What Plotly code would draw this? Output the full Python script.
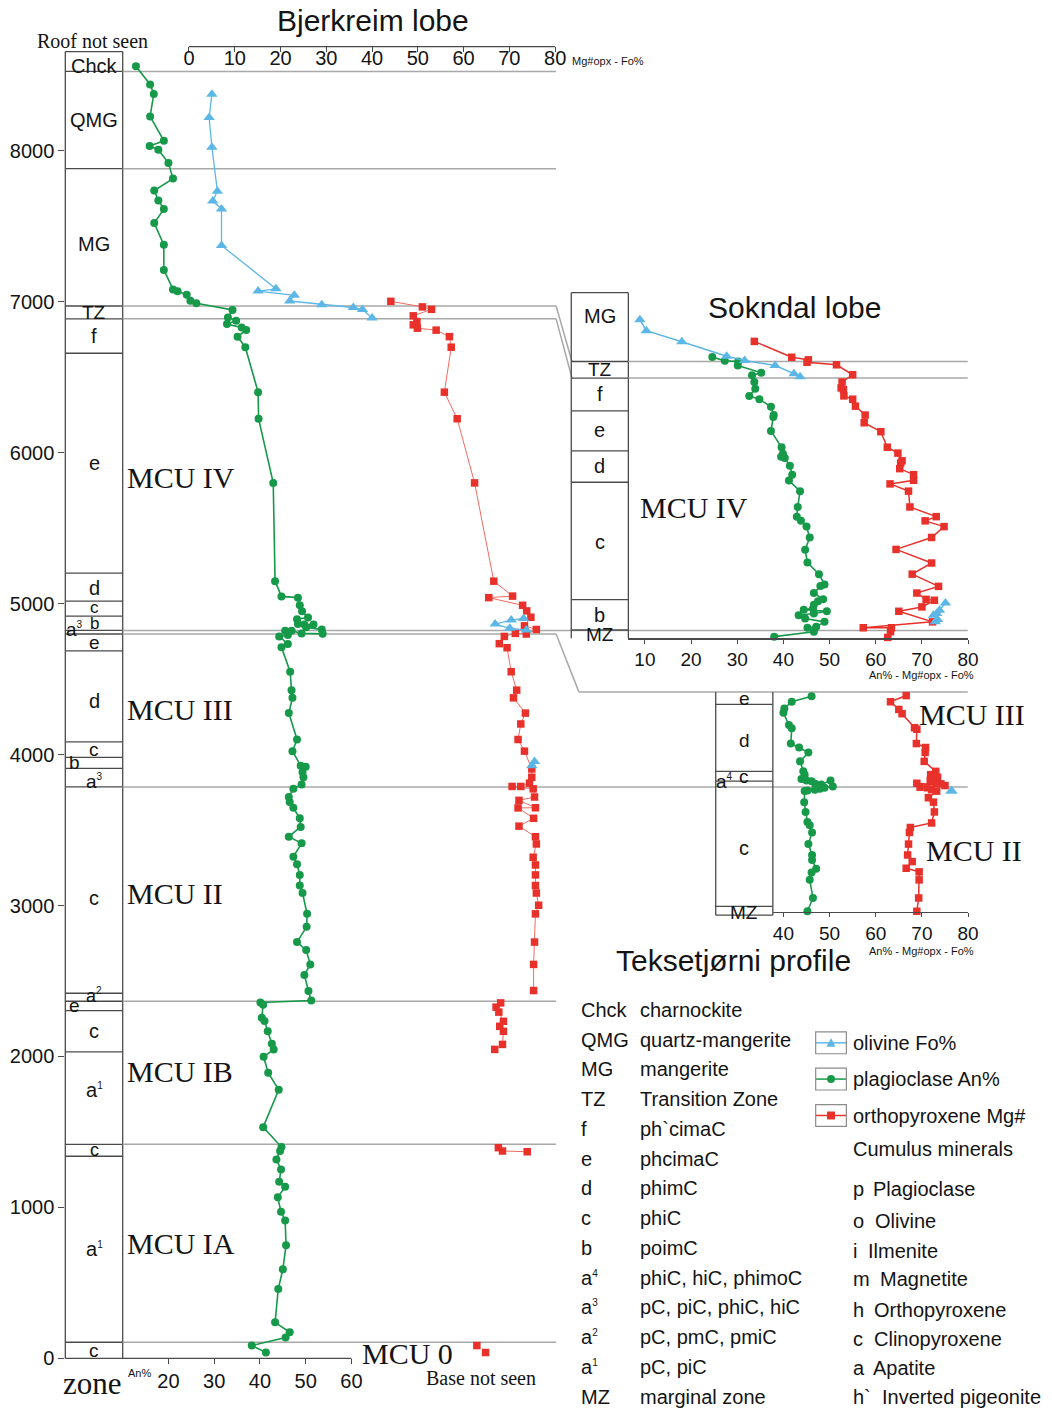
import plotly.graph_objects as go

W, H = 1052, 1419
SANS = "Liberation Sans, Arial, sans-serif"
SERIF = "Liberation Serif, Times New Roman, serif"
GREEN = "#17994a"
RED = "#e8312b"
REDLINE = "#ef6b62"
BLUE = "#5db7e6"
GRAY = "#a8a8a8"
DARK = "#4a4a4a"
TXT = "#141414"

# ---------------- data: Bjerkreim lobe (stratigraphic height, m) ----------------
bj_pl_depth = [8561, 8440, 8377, 8228, 8066, 8032, 8007, 7919, 7816, 7737, 7671, 7614, 7522, 7377, 7211,
               7082, 7069, 7047, 7007, 6990, 6946, 6896, 6874, 6852, 6830, 6813, 6769, 6699, 6401, 6225,
               5800, 5149, 5048, 5040, 4989, 4950, 4908, 4897, 4866, 4862, 4862, 4843, 4829, 4800, 4803,
               4820, 4820, 4792, 4783, 4733, 4711, 4549, 4427, 4376, 4275, 4100, 4023, 3927, 3920, 3883,
               3850, 3802, 3773, 3719, 3686, 3648, 3578, 3521, 3456, 3412, 3324, 3273, 3203, 3133, 3083,
               2945, 2859, 2758, 2705, 2610, 2540, 2434, 2371, 2358, 2343, 2257, 2235, 2167, 2084, 2047,
               1998, 1893, 1779, 1532, 1400, 1374, 1317, 1251, 1170, 1137, 1067, 971, 914, 750, 590,
               460, 239, 173, 138, 85, 39]
bj_pl_an = [12.9, 16.0, 16.8, 16.0, 19.0, 15.9, 17.8, 20.0, 21.0, 16.9, 17.8, 19.0, 16.9, 19.0, 19.0,
            21.0, 22.0, 24.0, 24.8, 26.1, 34.0, 33.0, 34.8, 32.8, 36.0, 37.0, 35.1, 36.8, 39.6, 39.7,
            42.9, 43.3, 44.7, 48.3, 48.7, 49.2, 50.5, 48.1, 48.3, 49.7, 51.7, 50.1, 53.5, 53.7, 49.1,
            46.9, 45.5, 46.1, 44.2, 46.1, 44.7, 46.6, 46.9, 47.1, 46.3, 48.1, 47.1, 48.9, 50.0, 49.3,
            49.5, 49.1, 47.3, 46.3, 46.5, 47.3, 48.7, 48.9, 46.3, 49.1, 47.3, 48.1, 48.7, 48.7, 49.3,
            50.3, 50.2, 48.1, 50.1, 51.0, 49.7, 50.6, 51.2, 40.1, 40.7, 40.4, 41.0, 41.7, 42.6, 43.0,
            40.8, 41.8, 44.1, 40.7, 44.7, 44.4, 43.6, 44.6, 44.2, 45.5, 43.9, 44.6, 45.5, 45.7, 45.0,
            44.0, 43.3, 46.5, 45.6, 38.2, 41.3]

bj_opx_depth = [7003, 6966, 6950, 6907, 6869, 6847, 6825, 6812, 6769, 6699, 6401, 6225, 5800, 5149, 5050,
                5040, 4989, 4952, 4910, 4853, 4829, 4799, 4803, 4783, 4735, 4708, 4549, 4427, 4376, 4275,
                4203, 4100, 4023, 3905, 3850, 3811, 3789, 3789, 3773, 3719, 3697, 3648, 3647, 3578, 3526,
                3456, 3408, 3320, 3269, 3203, 3133, 3083, 3002, 2945, 2758, 2610, 2437, None,
                2355, 2327, 2294, 2233, 2200, 2167, 2080, 2047, None,
                1396, 1374, 1369, None, 85, None, 39]
bj_opx_mg = [44.1, 51.0, 53.0, 49.0, 49.8, 49.0, 49.9, 54.0, 56.9, 57.3, 55.8, 58.6, 62.4, 66.6, 70.7,
             65.5, 72.9, 73.8, 74.7, 73.3, 75.9, 73.7, 71.3, 68.9, 67.8, 69.5, 70.4, 71.6, 70.9, 73.5,
             72.5, 71.9, 73.3, 74.9, 74.9, 74.4, 72.5, 70.6, 75.2, 75.5, 72.1, 75.7, 71.9, 75.3, 72.1,
             75.7, 75.9, 75.2, 75.7, 75.7, 75.7, 75.9, 76.4, 75.7, 75.5, 75.3, 75.3, None,
             68.1, 67.1, 67.7, 68.7, 67.9, 68.7, 68.5, 66.8, None,
             67.6, 68.5, 73.9, None, 62.9, None, 64.8]

bj_ol_depth = [8374, 8221, 8024, 7733, 7667, 7614, 7373, 7086, 7071, 7043, 7005, 6981, 6962, 6948, 6892,
               None, 4902, 4891, 4865, 4837, 4825, None, 3955, 3927]
bj_ol_fo = [5.0, 4.4, 5.0, 6.2, 5.2, 7.1, 7.1, 19.0, 15.1, 23.0, 22.0, 29.0, 35.9, 37.9, 40.0,
            None, 73.1, 70.4, 66.9, 70.1, 73.7, None, 75.5, 74.9]

# ---------------- data: Sokndal lobe (relative height, m) ----------------
sk_pl_h = [1864, 1838, 1834, 1808, 1759, 1742, 1698, 1654, 1606, 1584, 1534, 1479, 1466, 1374, 1266,
           1222, 1203, 1194, 1144, 1084, 1045, 975, 870, 806, 778, 740, 668, 587, 502, 425, 357, 346,
           300, 258, 245, 223, 197, 190, 179, 164, 153, 131, 109, 76, 70, 44, 11]
sk_pl_an = [24.6, 27.3, 30.2, 30.1, 35.2, 33.2, 33.7, 33.9, 32.6, 34.8, 37.3, 37.9, 37.8, 37.3, 39.6,
            39.9, 39.5, 40.3, 41.4, 41.9, 41.2, 43.6, 43.1, 42.9, 43.8, 45.0, 45.7, 44.7, 45.2, 47.7,
            48.9, 48.0, 46.6, 48.6, 47.5, 46.6, 46.4, 44.4, 49.4, 46.6, 43.3, 44.7, 48.9, 47.1, 45.2,
            46.6, 38.0]
sk_opx_h = [1967, 1862, 1845, 1829, 1812, 1746, 1698, 1659, 1648, 1606, 1584, 1538, 1479, 1428, 1369,
            1266, 1227, 1176, 1161, 1124, 1084, 1047, 1023, 975, 870, 806, 778, 740, 668, 589, 499,
            425, 344, 300, 258, 252, 208, 179, 109, 70, 70, 44, 6]
sk_opx_mg = [33.7, 41.8, 45.4, 45.1, 51.5, 55.0, 52.7, 52.5, 53.0, 53.1, 55.0, 55.6, 57.7, 57.5, 61.1,
             62.5, 64.8, 65.7, 65.4, 65.2, 68.2, 68.2, 63.1, 67.1, 67.4, 73.1, 70.7, 74.8, 72.1, 64.4,
             72.1, 67.9, 73.6, 68.9, 70.9, 72.7, 70.0, 65.0, 72.3, 57.3, 63.4, 63.2, 62.6]
sk_ol_h = [2110, 2038, 1965, 1869, 1840, 1808, 1753, 1733, None, 234, 186, 164, 153, 125, 109]
sk_ol_fo = [8.9, 10.3, 18.0, 27.7, 31.6, 38.2, 42.3, 43.6, None, 75.1, 73.8, 73.2, 72.5, 73.4, 72.9]

# ---------------- data: Teksetjoerni profile (relative height, m) ----------------
tk_pl_h = [1431, 1394, 1350, 1321, 1240, 1218, 1117, 1091, 1058, 999, 933, 911, 883, 872, 868, 850,
           846, 872, 832, 824, 817, 811, 806, 802, 729, 664, 598, 576, 528, 451, 379, 346, 287, 263,
           214, 94, 6]
tk_pl_an = [46.1, 41.8, 40.2, 40.0, 41.2, 41.8, 41.6, 43.4, 45.4, 43.6, 44.3, 44.6, 43.9, 45.0, 46.1,
            46.9, 48.2, 50.2, 50.7, 48.9, 47.9, 46.8, 45.2, 44.6, 44.5, 44.8, 45.2, 45.7, 46.2, 45.4,
            46.2, 46.2, 47.1, 46.1, 45.7, 46.4, 45.2]
tk_opx_h = [1435, 1394, 1343, 1315, 1222, 1212, 1117, 1091, 1058, 999, 933, 911, 894, 872, 854, 850,
            839, 854, 828, 824, 811, 802, 758, 729, 664, 591, 561, 528, 451, 379, 335, 291, 267, 214,
            94, 6]
tk_opx_mg = [66.6, 63.2, 65.0, 65.7, 68.4, 68.9, 68.8, 70.8, 70.7, 70.5, 73.0, 71.9, 73.4, 71.8, 72.9,
             74.1, 75.0, 68.9, 69.6, 71.2, 72.1, 73.2, 71.4, 72.5, 72.7, 72.1, 67.5, 67.3, 67.1, 66.9,
             67.9, 66.6, 69.4, 69.4, 69.3, 68.9]
tk_ol_h = [802]
tk_ol_fo = [76.4]

# ---------------- tick values ----------------
bj_depth_ticks = [0, 1000, 2000, 3000, 4000, 5000, 6000, 7000, 8000]
bj_an_ticks = [20, 30, 40, 50, 60]
bj_mg_ticks = [0, 10, 20, 30, 40, 50, 60, 70, 80]
sk_ticks = [10, 20, 30, 40, 50, 60, 70, 80]
tk_ticks = [40, 50, 60, 70, 80]

SUP = "a<sup><span style='font-size:10px'>%s</span></sup>"

# zones (boundaries in each profile's height units)
bj_zone_bounds = [8526, 7882, 6972, 6887, 6659, 5202, 5017, 4917, 4823, 4799, 4687, 4084, 3982, 3909,
                  3786, 2419, 2366, 2304, 2030, 1418, 1339, 107]
bj_zone_labels = [("Chck", 8561, 20), ("QMG", 8206, 20), ("MG", 7382, 20), ("TZ", 6928, 19), ("f", 6770, 20),
                  ("e", 5929, 20), ("d", 5101, 20), ("c", 4975, 17), ("b", 4868, 17), ("e", 4740, 19),
                  ("d", 4354, 20), ("c", 4033, 19), (SUP % "3", 3823, 19), ("c", 3049, 20),
                  (SUP % "2", 2404, 18), ("c", 2167, 20), (SUP % "1", 1775, 20), ("c", 1381, 18),
                  (SUP % "1", 727, 20), ("c", 53, 19)]
bj_zone_side = [(SUP % "3", 4830), ("b", 3950), ("e", 2335)]

# ---------------- pixel geometry ----------------
MY0, MS = 1369.0, 0.152125        # main: pixel of 0 m, px per m
M_TOP = 47.0
M_L, M_ZR, M_R = 66.0, 124.0, 562.0
M_DOM_R = 590.0
AN0, MG0, XS = 77.7, 191.0, 4.625  # px of An 0, px of Mg 0, px per unit
S_BOT, S_TOP = 643.3, 295.0
T_BOT, T_TOP = 919.3, 697.3
V0, VS = 605.1, 4.665              # Sokndal/Teksetjoerni value axis


def py(p):
    return 1 - p / H


def px(p):
    return p / W


def my(d):
    return MY0 - d * MS


def sy(h):
    return S_BOT - h * MS


def ty(h):
    return T_BOT - h * MS


fig = go.Figure()


def add_series(x, y, xa, ya, color, lcolor, lw, sym, size):
    fig.add_trace(go.Scatter(x=x, y=y, xaxis=xa, yaxis=ya, mode="lines+markers",
                             line=dict(color=lcolor, width=lw), connectgaps=False,
                             marker=dict(color=color, symbol=sym, size=size, line=dict(width=0)),
                             cliponaxis=False, hoverinfo="skip", showlegend=False))


# Bjerkreim
add_series(bj_pl_an, bj_pl_depth, "x", "y", GREEN, GREEN, 1.6, "circle", 8)
add_series(bj_opx_mg, bj_opx_depth, "x2", "y", RED, REDLINE, 1.0, "square", 7.5)
add_series(bj_ol_fo, bj_ol_depth, "x2", "y", BLUE, BLUE, 1.3, "triangle-up", 10)
# Sokndal
add_series(sk_pl_an, sk_pl_h, "x3", "y3", GREEN, GREEN, 1.6, "circle", 8)
add_series(sk_opx_mg, sk_opx_h, "x3", "y3", RED, RED, 1.5, "square", 7.5)
add_series(sk_ol_fo, sk_ol_h, "x3", "y3", BLUE, BLUE, 1.5, "triangle-up", 10)
# Teksetjoerni
add_series(tk_pl_an, tk_pl_h, "x4", "y4", GREEN, GREEN, 1.6, "circle", 8)
add_series(tk_opx_mg, tk_opx_h, "x4", "y4", RED, RED, 1.5, "square", 7.5)
add_series(tk_ol_fo, tk_ol_h, "x4", "y4", BLUE, BLUE, 1.5, "triangle-up", 11)

shapes = []


def seg(x0, y0, x1, y1, color=DARK, w=1.3):
    shapes.append(dict(type="line", xref="paper", yref="paper", x0=px(x0), y0=py(y0), x1=px(x1), y1=py(y1),
                       line=dict(color=color, width=w), layer="below"))


# ---- main zone column
seg(M_L, 52, M_L, my(0))
seg(M_ZR, 52, M_ZR, my(0))
seg(M_L, 52, M_ZR, 52)
for d in bj_zone_bounds:
    seg(M_L, my(d), M_ZR, my(d))
# gray correlation lines
for d in [8526, 7882, 2366, 1418, 107]:
    seg(M_ZR, my(d), M_R, my(d), GRAY, 1.5)
for d in [4823, 3786]:
    seg(M_ZR, my(d), 978, my(d), GRAY, 1.5)
seg(M_ZR, my(6972), M_R, my(6972), GRAY, 1.5)
seg(M_R, my(6972), 578, S_TOP + 69.3, GRAY, 1.5)
seg(M_ZR, my(6887), M_R, my(6887), GRAY, 1.5)
seg(M_R, my(6887), 578, 381, GRAY, 1.5)
seg(M_ZR, my(4799), M_R, my(4799), GRAY, 1.5)
seg(M_R, my(4799), 585, T_TOP, GRAY, 1.5)
seg(585, T_TOP, 978, T_TOP, GRAY, 1.5)
# main axis lines
seg(M_L, my(0), AN0 + 60 * XS, my(0))
seg(MG0, M_TOP, MG0 + 80 * XS, M_TOP)

# ---- Sokndal zone column
sk_bounds = [1834, 1724, 1507, 1242, 1034, 256, 55]
SK_L, SK_R = 577.3, 635.0
seg(SK_L, S_TOP, SK_L, S_BOT)
seg(SK_L, S_TOP, SK_R, S_TOP)
seg(SK_R, S_TOP, SK_R, S_BOT)
for h in sk_bounds:
    seg(SK_L, sy(h), SK_R, sy(h))
for h in [1834, 1724]:
    seg(SK_R, sy(h), 978, sy(h), GRAY, 1.5)

# ---- Teksetjoerni zone column
tk_bounds = [1376, 933, 868, 39]
TK_L, TK_R = 723.3, 781.0
seg(TK_L, T_TOP, TK_L, 922.3)
seg(TK_R, T_TOP, TK_R, 922.3)
seg(TK_L, 922.3, TK_R, 922.3)
for h in tk_bounds:
    seg(TK_L, ty(h), TK_R, ty(h))

# ---- legend symbol boxes
leg_rows = [(1051, BLUE, "tri"), (1087.5, GREEN, "circ"), (1124.2, RED, "sq")]
for yc, col, kind in leg_rows:
    shapes.append(dict(type="rect", xref="paper", yref="paper", x0=px(824.3), x1=px(855.3),
                       y0=py(yc - 11), y1=py(yc + 11), line=dict(color="#8c8c8c", width=1.2)))
    seg(824.3, yc, 855.3, yc, col, 1.5)
    if kind == "circ":
        shapes.append(dict(type="circle", xref="paper", yref="paper", x0=px(835.8), x1=px(843.8),
                           y0=py(yc + 4), y1=py(yc - 4), fillcolor=col, line=dict(width=0)))
    elif kind == "sq":
        shapes.append(dict(type="rect", xref="paper", yref="paper", x0=px(835.8), x1=px(843.8),
                           y0=py(yc + 4), y1=py(yc - 4), fillcolor=col, line=dict(width=0)))
    else:
        path = "M %f,%f L %f,%f L %f,%f Z" % (px(835.3), py(yc + 4), px(844.3), py(yc + 4), px(839.8), py(yc - 5))
        shapes.append(dict(type="path", xref="paper", yref="paper", path=path, fillcolor=col,
                           line=dict(width=0)))

ann = []


def txt(x, y, s, size, family=SANS, xanchor="center", color=TXT):
    ann.append(dict(x=px(x), y=py(y), xref="paper", yref="paper", text=s, showarrow=False,
                    font=dict(size=size, family=family, color=color), xanchor=xanchor, yanchor="middle",
                    borderpad=0))


# titles
txt(377, 21, "Bjerkreim lobe", 30)
txt(803, 310, "Sokndal lobe", 30)
txt(741, 968, "Teksetjørni profile", 30)
txt(93, 41, "Roof not seen", 20, SERIF)
txt(93, 1394, "zone", 31, SERIF)
txt(486, 1389, "Base not seen", 20, SERIF)
txt(577, 61, "Mg#opx - Fo%", 11, xanchor="left")
txt(141, 1384, "An%", 11)
txt(931, 680, "An% - Mg#opx - Fo%", 11)
txt(931, 958, "An% - Mg#opx - Fo%", 11)

# MCU labels
for s, x, y in [("MCU IV", 127, 481), ("MCU III", 127, 715), ("MCU II", 127, 900), ("MCU IB", 127, 1080),
                ("MCU IA", 127, 1253), ("MCU 0", 365, 1364), ("MCU IV", 646, 511), ("MCU III", 928, 720),
                ("MCU II", 935, 857)]:
    txt(x, y, s, 30, SERIF, xanchor="left")

# zone labels
for s, d, fs in bj_zone_labels:
    txt(95, my(d), s, fs)
for s, d in bj_zone_side:
    txt(75, my(d), s, 19)
for s, h, fs in [("MG", 2135, 20), ("TZ", 1780, 19), ("f", 1618, 20), ("e", 1380, 20), ("d", 1140, 20),
                 ("c", 635, 20), ("b", 155, 20), ("MZ", 22, 19)]:
    txt(606, sy(h), s, fs)
for s, h in [("e", 1413), ("d", 1136), ("c", 900)]:
    txt(752, ty(h), s, 19)
txt(732, ty(865), SUP % "4", 19)
txt(752, ty(425), "c", 20)
txt(752, ty(-3), "MZ", 19)

# legend text
abbr = ["Chck", "QMG", "MG", "TZ", "f", "e", "d", "c", "b", SUP % "4", SUP % "3", SUP % "2", SUP % "1", "MZ"]
desc = ["charnockite", "quartz-mangerite", "mangerite", "Transition Zone", "ph`cimaC", "phcimaC", "phimC",
        "phiC", "poimC", "phiC, hiC, phimoC", "pC, piC, phiC, hiC", "pC, pmC, pmiC", "pC, piC", "marginal zone"]
for i, (a, d) in enumerate(zip(abbr, desc)):
    yy = 1017.7 + 30 * i
    txt(586, yy, a, 20, xanchor="left")
    txt(646, yy, d, 20, xanchor="left")
txt(861, 1051, "olivine Fo%", 20, xanchor="left")
txt(861, 1087.7, "plagioclase An%", 20, xanchor="left")
txt(861, 1124.3, "orthopyroxene Mg#", 20, xanchor="left")
txt(861, 1158.3, "Cumulus minerals", 20, xanchor="left")
for l, n, xn, yy in [("p", "Plagioclase", 881, 1198.3), ("o", "Olivine", 883, 1230.3), ("i", "Ilmenite", 876, 1260.7),
                     ("m", "Magnetite", 888, 1289), ("h", "Orthopyroxene", 882, 1320),
                     ("c", "Clinopyroxene", 882, 1349.3), ("a", "Apatite", 881, 1378.3),
                     ("h`", "Inverted pigeonite", 890, 1407.7)]:
    txt(861, yy, l, 20, xanchor="left")
    txt(xn, yy, n, 20, xanchor="left")

tickfont = dict(family=SANS, size=20, color=TXT)
tickfont_s = dict(family=SANS, size=19, color=TXT)
common = dict(showgrid=False, zeroline=False, tickcolor=DARK, fixedrange=True)

fig.update_layout(
    width=W, height=H, margin=dict(l=0, r=0, t=0, b=0),
    paper_bgcolor="white", plot_bgcolor="rgba(0,0,0,0)", showlegend=False,
    shapes=shapes, annotations=ann,
    xaxis=dict(domain=[px(M_L), px(M_DOM_R)], range=[(M_L - AN0) / XS, (M_DOM_R - AN0) / XS], anchor="y",
               tickmode="array", tickvals=bj_an_ticks, ticks="outside", ticklen=5, showline=False,
               tickfont=tickfont, **common),
    xaxis2=dict(domain=[px(M_L), px(M_DOM_R)], range=[(M_L - MG0) / XS, (M_DOM_R - MG0) / XS], anchor="y",
                overlaying="x", side="top", tickmode="array", tickvals=bj_mg_ticks, ticks="inside", ticklen=5,
                ticklabelposition="inside", showline=False, tickfont=tickfont, **common),
    yaxis=dict(domain=[py(MY0), py(M_TOP)], range=[0, (MY0 - M_TOP) / MS], anchor="x",
               tickmode="array", tickvals=bj_depth_ticks, ticks="outside", ticklen=6, showline=False,
               tickfont=tickfont, **common),
    xaxis3=dict(domain=[px(635), px(978.3)], range=[(635 - V0) / VS, (978.3 - V0) / VS], anchor="y3",
                tickmode="array", tickvals=sk_ticks, ticks="outside", ticklen=4, showline=True,
                linecolor=DARK, linewidth=1.3, tickfont=tickfont_s, **common),
    yaxis3=dict(domain=[py(S_BOT), py(S_TOP)], range=[0, (S_BOT - S_TOP) / MS], anchor="x3",
                showticklabels=False, ticks="", showline=False, **common),
    xaxis4=dict(domain=[px(781), px(978.3)], range=[(781 - V0) / VS, (978.3 - V0) / VS], anchor="y4",
                tickmode="array", tickvals=tk_ticks, ticks="outside", ticklen=4, showline=True,
                linecolor=DARK, linewidth=1.3, tickfont=tickfont_s, **common),
    yaxis4=dict(domain=[py(T_BOT), py(T_TOP)], range=[0, (T_BOT - T_TOP) / MS], anchor="x4",
                showticklabels=False, ticks="", showline=False, **common),
)

fig.write_html("out.html", config={"displayModeBar": False, "staticPlot": True},
               post_script="document.body.style.margin='0';document.body.style.overflow='hidden';")
